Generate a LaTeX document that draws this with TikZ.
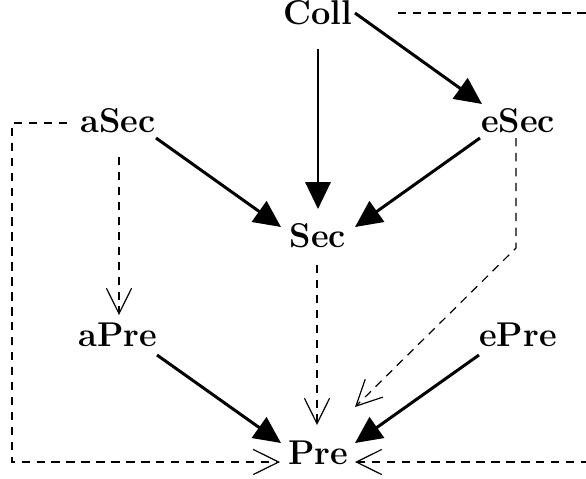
\documentclass[tikz,border=0pt]{standalone}
\usepackage{fontspec}
\usetikzlibrary{arrows.meta,calc}
\begin{document}
\begin{tikzpicture}[x=0.3345pt,y=-0.3345pt,
  lbl/.style={inner sep=0pt,anchor=base,font=\fontsize{11.5}{14}\selectfont\bfseries},
  strong/.style={line width=1pt,-{Triangle[length=9pt,width=8.4pt]}},
  weak/.style={line width=0.4pt,dash pattern=on 2.8pt off 2.2pt,-{Straight Barb[length=8.5pt,width=8.4pt]}}]
\useasboundingbox (0,0) rectangle (586,478);
\node[lbl] (Coll) at (318,24) {Coll};
\node[lbl] (aSec) at (118,132) {aSec};
\node[lbl] (eSec) at (518,132) {eSec};
\node[lbl] (Sec) at (318,247) {Sec};
\node[lbl] (aPre) at (118,346) {aPre};
\node[lbl] (ePre) at (518,346) {ePre};
\node[lbl] (Pre) at (318,464) {Pre};
% solid arrows
\draw[strong] ($(Coll.base)+(0,25)$) -- ($(Sec.base)+(0,-38)$);
\draw[strong] ($(Coll.base)+(37,-11)$) -- ($(eSec.base)+(-36,-28)$);
\draw[strong] ($(aSec.base)+(38,6)$) -- ($(Sec.base)+(-37,-20)$);
\draw[strong] ($(eSec.base)+(-38,6)$) -- ($(Sec.base)+(37,-20)$);
\draw[strong] ($(aPre.base)+(39,9)$) -- ($(Pre.base)+(-37,-21)$);
\draw[strong] ($(ePre.base)+(-39,9)$) -- ($(Pre.base)+(37,-21)$);
% dashed arrows
\draw[weak] ($(aSec.base)+(1,25)$) -- ($(aPre.base)+(1,-31)$);
\draw[weak] ($(Sec.base)+(-1,18)$) -- ($(Pre.base)+(-1,-39)$);
\draw[weak] ($(eSec.base)+(-2,6)$) -- ($(eSec.base)+(-2,116)$) -- ($(Pre.base)+(37,-57)$);
\draw[weak] ($(aSec.base)+(-51,-9)$) -- ($(aSec.base)+(-106,-9)$) -- ($(Pre.base)+(-306,-2)$) -- ($(Pre.base)+(-38,-2)$);
\draw[weak] ($(Coll.base)+(80,-11)$) -- ($(Coll.base)+(280,-11)$) -- ($(Pre.base)+(280,-2)$) -- ($(Pre.base)+(37,-2)$);
\end{tikzpicture}
\end{document}
